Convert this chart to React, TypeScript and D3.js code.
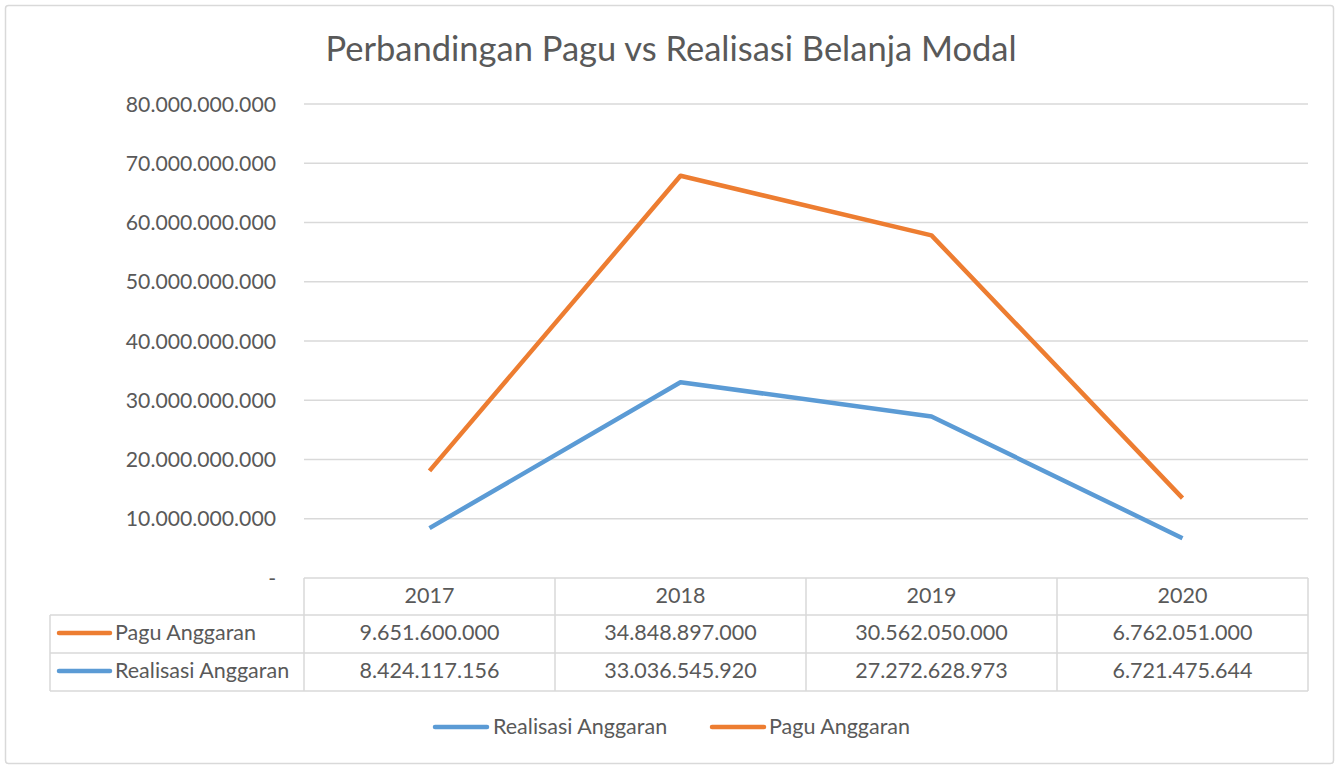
import React from "react";
import * as d3 from "d3";

const years = ["2017", "2018", "2019", "2020"];
const paguAnggaran = [9651600000, 34848897000, 30562050000, 6762051000];
const realisasiAnggaran = [8424117156, 33036545920, 27272628973, 6721475644];
const yTicks = [0, 10e9, 20e9, 30e9, 40e9, 50e9, 60e9, 70e9, 80e9];
const title = "Perbandingan Pagu vs Realisasi Belanja Modal";

const W = 1339, H = 767;
const FONT = "Lato, 'Open Sans', sans-serif";
const TXT = "#595959";
const GRID = "#d9d9d9";
const BLUE = "#5b9bd5";
const ORANGE = "#ed7d31";
const FS = 21.5;

const fmt = (v: number) => {
  const s = Math.round(v).toString();
  return s.replace(/\B(?=(\d{3})+(?!\d))/g, ".");
};

export default function App() {
  const x = d3.scaleBand<string>().domain(years).range([304, 1308]);
  const y = d3.scaleLinear().domain([0, 80e9]).range([578, 104]);

  const rows = years.map((yr, i) => ({ year: yr, real: realisasiAnggaran[i], pagu: paguAnggaran[i] }));
  const stack = d3.stack<any>().keys(["real", "pagu"]);
  const series = stack(rows);
  const line = d3
    .line<any>()
    .x((d: any) => (x(d.data.year) as number) + x.bandwidth() / 2)
    .y((d: any) => y(d[1]));

  const tableTop = 578;
  const rowY = [tableTop, 615, 653, 691];
  const leftX = 50;
  const tableRows = [
    { name: "Pagu Anggaran", color: ORANGE, vals: paguAnggaran },
    { name: "Realisasi Anggaran", color: BLUE, vals: realisasiAnggaran },
  ];

  return (
    <svg width={W} height={H} style={{ position: "absolute", left: 0, top: 0 }} fontFamily={FONT}>
      <rect x={0} y={0} width={W} height={H} fill="#fff" />
      <rect x={5.5} y={5.5} width={1328} height={758} fill="#fff" stroke="#d9d9d9" strokeWidth={1.5} rx={3} />
      <text x={671} y={61} textAnchor="middle" fontSize={34.5} fill={TXT}>{title}</text>

      {yTicks.map((t) => (
        <g key={t}>
          {t > 0 && <line x1={304} x2={1308} y1={y(t)} y2={y(t)} stroke={GRID} strokeWidth={1.3} />}
          <text x={276} y={y(t) + 7.5} textAnchor="end" fontSize={21.2} fill={TXT}>
            {t === 0 ? "-" : fmt(t)}
          </text>
        </g>
      ))}

      {/* data table */}
      <g stroke={GRID} strokeWidth={1.5} fill="none">
        <line x1={304} x2={1308} y1={rowY[0]} y2={rowY[0]} />
        <line x1={leftX} x2={1308} y1={rowY[1]} y2={rowY[1]} />
        <line x1={leftX} x2={1308} y1={rowY[2]} y2={rowY[2]} />
        <line x1={leftX} x2={1308} y1={rowY[3]} y2={rowY[3]} />
        <line x1={leftX} x2={leftX} y1={rowY[1]} y2={rowY[3]} />
        {years.map((yr) => (
          <line key={yr} x1={x(yr) as number} x2={x(yr) as number} y1={rowY[0]} y2={rowY[3]} />
        ))}
        <line x1={1308} x2={1308} y1={rowY[0]} y2={rowY[3]} />
      </g>
      {years.map((yr) => (
        <text key={yr} x={(x(yr) as number) + x.bandwidth() / 2} y={rowY[0] + 25} textAnchor="middle" fontSize={FS} fill={TXT}>
          {yr}
        </text>
      ))}
      {tableRows.map((r, ri) => (
        <g key={r.name}>
          <line x1={59} x2={110} y1={rowY[ri + 1] + 18} y2={rowY[ri + 1] + 18} stroke={r.color} strokeWidth={4.5} strokeLinecap="round" />
          <text x={115} y={rowY[ri + 1] + 25} fontSize={FS} fill={TXT}>{r.name}</text>
          {r.vals.map((v, i) => (
            <text key={i} x={(x(years[i]) as number) + x.bandwidth() / 2} y={rowY[ri + 1] + 25} textAnchor="middle" fontSize={FS} fill={TXT}>
              {fmt(v)}
            </text>
          ))}
        </g>
      ))}

      {/* lines */}
      <path d={line(series[0] as any) || ""} fill="none" stroke={BLUE} strokeWidth={4.5} strokeLinejoin="round" />
      <path d={line(series[1] as any) || ""} fill="none" stroke={ORANGE} strokeWidth={4.5} strokeLinejoin="round" />

      {/* legend */}
      <line x1={435} x2={487} y1={727} y2={727} stroke={BLUE} strokeWidth={4.5} strokeLinecap="round" />
      <text x={493} y={734} fontSize={FS} fill={TXT}>Realisasi Anggaran</text>
      <line x1={712} x2={764} y1={727} y2={727} stroke={ORANGE} strokeWidth={4.5} strokeLinecap="round" />
      <text x={769} y={734} fontSize={FS} fill={TXT}>Pagu Anggaran</text>
    </svg>
  );
}
